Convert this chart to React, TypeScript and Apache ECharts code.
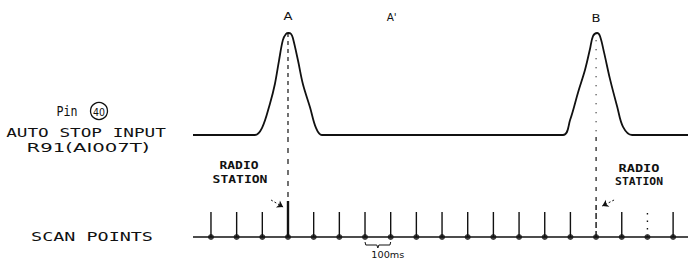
import React, { useEffect, useRef } from "react";
import * as echarts from "echarts";

// Scan points, one every 100 ms
const scanTimes = [0, 100, 200, 300, 400, 500, 600, 700, 800, 900, 1000, 1100, 1200, 1300, 1400, 1500, 1600, 1700, 1800];
// Relative stem heights (the station hits are taller)
const stemHeights = [1, 1, 1, 1.44, 1, 1, 1, 1, 1, 1, 1, 1, 1, 1, 1, 1.28, 1, 1, 1];
// Stem style: 0 normal, 1 bold, 2 dashed, 3 dotted
const stemKinds = [0, 0, 0, 1, 0, 0, 0, 0, 0, 0, 0, 0, 0, 0, 0, 2, 0, 3, 0];

// Auto stop input waveform (time in ms, relative level)
const waveT = [-70, 171, 199, 230, 249, 265, 280, 292, 302, 312, 319, 339, 358, 386, 409, 432, 1371, 1399, 1430, 1457, 1476, 1488, 1504, 1515, 1531, 1554, 1582, 1605, 1640, 1858];
const waveV = [0, 0, 0.07, 0.31, 0.5, 0.73, 0.93, 0.99, 1, 0.99, 0.95, 0.73, 0.5, 0.27, 0.07, 0, 0, 0.15, 0.42, 0.64, 0.84, 0.97, 1, 0.97, 0.81, 0.55, 0.28, 0.08, 0, 0];

const peakLabels = ["A", "A'", "B"];
const peakTimes = [300, 700, 1500];
const stationTimes = [300, 1500];
const xMin = -70;
const xMax = 1858;

const INK = "#111";
const MONO = "'DejaVu Sans Mono'";
const SANS = "'DejaVu Sans'";

let measureCtx: CanvasRenderingContext2D | null = null;
function measure(text: string, font: string): number {
  if (!measureCtx) measureCtx = document.createElement("canvas").getContext("2d");
  if (!measureCtx) return text.length * 7;
  measureCtx.font = font;
  return measureCtx.measureText(text).width;
}

export default function App() {
  const ref = useRef<HTMLDivElement>(null);
  useEffect(() => {
    if (!ref.current) return;
    const chart = echarts.init(ref.current, undefined, { renderer: "svg" });
    const wave = waveT.map((t, i) => [t, waveV[i]]);
    const stems = scanTimes.map((t, i) => [t, stemHeights[i], stemKinds[i]]);
    const b0 = scanTimes[6];
    const b1 = scanTimes[7];
    const bm = (b0 + b1) / 2;
    const bracket = [
      [b0, -0.2], [b0 + 3, -0.32], [bm - 4, -0.32], [bm, -0.44], [bm + 4, -0.32], [b1 - 3, -0.32], [b1, -0.2],
    ];
    const option: any = {
      animation: false,
      backgroundColor: "#fff",
      grid: [
        { left: 193, right: 0, top: 33, height: 102 },
        { left: 193, right: 0, top: 137, height: 120 },
      ],
      xAxis: [
        { type: "value", gridIndex: 0, min: xMin, max: xMax, show: false },
        { type: "value", gridIndex: 1, min: xMin, max: xMax, show: false },
      ],
      yAxis: [
        { type: "value", gridIndex: 0, min: 0, max: 1, show: false },
        { type: "value", gridIndex: 1, min: -0.8, max: 4, show: false },
      ],
      series: [
        {
          type: "line", xAxisIndex: 0, yAxisIndex: 0, data: wave, smooth: 0.35,
          showSymbol: false, lineStyle: { color: INK, width: 1.8 }, silent: true,
        },
        {
          type: "line", xAxisIndex: 0, yAxisIndex: 0, data: [[stationTimes[0], 1], [stationTimes[0], 0]],
          showSymbol: false, lineStyle: { color: INK, width: 1.2, type: [4, 4] }, silent: true,
        },
        {
          type: "line", xAxisIndex: 0, yAxisIndex: 0, data: [[stationTimes[1], 0.93], [stationTimes[1], 0]],
          showSymbol: false, lineStyle: { color: INK, width: 1.2, type: [1, 8] }, silent: true,
        },
        {
          type: "line", xAxisIndex: 1, yAxisIndex: 1, data: [[stationTimes[0], 4], [stationTimes[0], stemHeights[3]]],
          showSymbol: false, lineStyle: { color: INK, width: 1.2, type: [5, 6] }, silent: true,
        },
        {
          type: "line", xAxisIndex: 1, yAxisIndex: 1, data: [[stationTimes[1], 4], [stationTimes[1], stemHeights[15]]],
          showSymbol: false, lineStyle: { color: INK, width: 1.2, type: [4, 6] }, silent: true,
        },
        {
          type: "line", xAxisIndex: 1, yAxisIndex: 1, data: [[xMin, 0], [xMax, 0]],
          showSymbol: false, lineStyle: { color: INK, width: 1.4 }, silent: true,
          markLine: {
            silent: true, symbol: ["none", "arrow"], symbolSize: 6, label: { show: false },
            lineStyle: { color: INK, width: 1, type: [2, 2] },
            data: [
              [{ coord: [234, 1.48] }, { coord: [281, 1.2] }],
              [{ coord: [1570, 1.48] }, { coord: [1524, 1.24] }],
            ],
          },
        },
        {
          type: "line", xAxisIndex: 1, yAxisIndex: 1, data: bracket,
          showSymbol: false, lineStyle: { color: INK, width: 1 }, silent: true,
        },
        {
          type: "custom", xAxisIndex: 1, yAxisIndex: 1, data: stems, silent: true,
          renderItem: (_p: any, api: any) => {
            const t = api.value(0);
            const h = api.value(1);
            const k = api.value(2);
            const a = api.coord([t, 0]);
            const b = api.coord([t, h]);
            return {
              type: "line",
              shape: { x1: a[0], y1: a[1], x2: b[0], y2: b[1] },
              style: {
                stroke: INK,
                lineWidth: k === 1 ? 2.4 : 1.4,
                lineDash: k === 2 ? [6, 3] : k === 3 ? [1.5, 6] : null,
              },
            };
          },
        },
        {
          type: "scatter", xAxisIndex: 1, yAxisIndex: 1, data: scanTimes.map((t) => [t, 0]),
          symbolSize: 6, itemStyle: { color: INK }, silent: true,
        },
      ],
    };
    chart.setOption(option);

    const px = (t: number) => chart.convertToPixel({ xAxisIndex: 0 }, t) as number;
    const p2 = (t: number, v: number) => chart.convertToPixel({ gridIndex: 1 }, [t, v]) as number[];
    // text stretched to a target width
    const txt = (text: string, x: number, y: number, size: number, width: number, weight = "normal", family = MONO) => {
      const font = `${weight} ${size}px ${family}`;
      const sx = width / measure(text, font);
      return {
        type: "text", x, y, scaleX: sx,
        style: { text, fill: INK, font, textAlign: "center", textVerticalAlign: "middle" },
        silent: true,
      };
    };
    const peakY = [16, 17, 18];
    const lab100 = p2(bm, -0.72);
    const graphic: any[] = [
      ...peakLabels.map((l, i) => txt(l, px(peakTimes[i]) + (i === 1 ? 1 : 0), peakY[i], 11, i === 1 ? 10 : 9, "normal", SANS)),
      txt("Pin", 67, 111, 14, 21, "normal"),
      { type: "circle", shape: { cx: 99, cy: 111, r: 8.5 }, style: { fill: "none", stroke: INK, lineWidth: 1.3 }, silent: true },
      txt("40", 99, 111.5, 11, 12, "normal", SANS),
      txt("AUTO STOP INPUT", 86, 133, 12, 160),
      txt("R91(AI007T)", 88, 148, 12, 123, "normal", SANS),
      txt("SCAN POINTS", 92, 237, 12, 122),
      txt("RADIO", 239, 166, 10, 39, "bold"),
      txt("STATION", 240, 180, 10, 55, "bold"),
      txt("RADIO", 639, 169, 10, 41, "bold"),
      txt("STATION", 639, 182, 10, 48, "bold"),
      txt("100ms", lab100[0] + 10, lab100[1], 9, 33, "normal", SANS),
    ];
    chart.setOption({ graphic });
    return () => chart.dispose();
  }, []);
  return (
    <div
      ref={ref}
      style={{ position: "fixed", left: 0, top: 0, width: 688, height: 260, background: "#fff" }}
    />
  );
}
